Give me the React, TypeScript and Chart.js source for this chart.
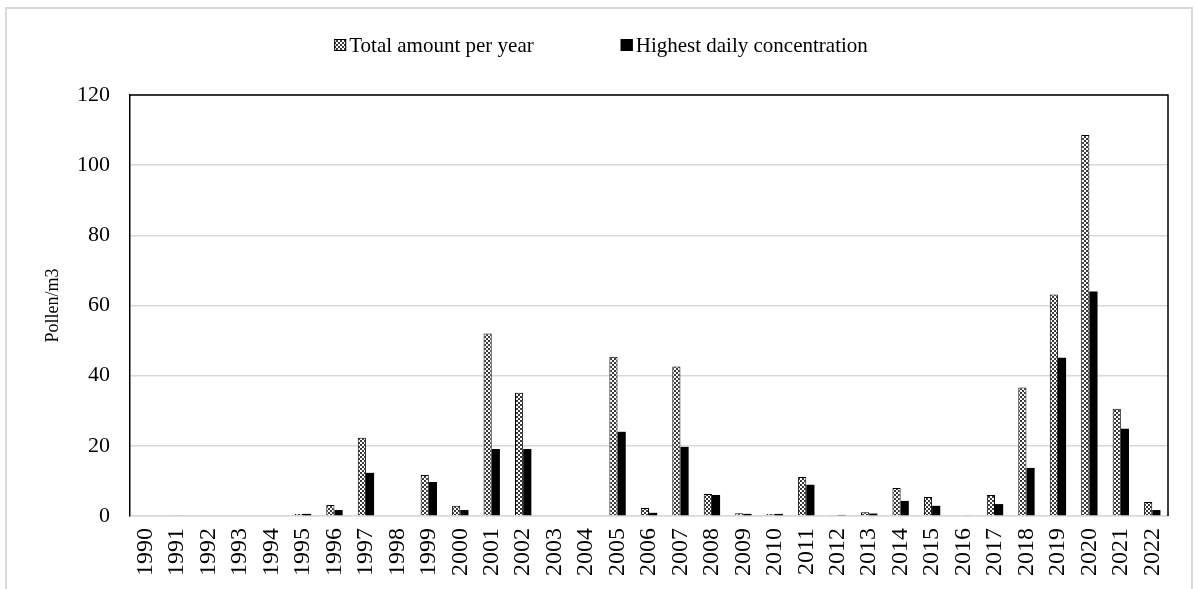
import React, { useEffect, useRef } from "react";
import { Chart, registerables } from "chart.js";

Chart.register(...registerables);

const years = [
  "1990", "1991", "1992", "1993", "1994", "1995", "1996", "1997", "1998", "1999",
  "2000", "2001", "2002", "2003", "2004", "2005", "2006", "2007", "2008", "2009",
  "2010", "2011", "2012", "2013", "2014", "2015", "2016", "2017", "2018", "2019",
  "2020", "2021", "2022",
];

const totalPerYear = [
  0, 0.3, 0, 0, 0, 0.6, 3.1, 22.3, 0, 11.7,
  2.9, 52.0, 35.1, 0, 0, 45.4, 2.3, 42.6, 6.3, 0.8,
  0.6, 11.1, 0.3, 1.1, 8.0, 5.4, 0.2, 6.0, 36.6, 63.1,
  108.6, 30.6, 4.0,
];

const highestDaily = [
  0, 0.2, 0, 0, 0, 0.6, 1.7, 12.3, 0, 9.7,
  1.7, 19.1, 19.1, 0, 0, 24.0, 0.9, 19.7, 6.0, 0.6,
  0.6, 8.9, 0.3, 0.7, 4.3, 2.9, 0.2, 3.4, 13.7, 45.1,
  64.0, 24.9, 1.7,
];

const seriesNames = ["Total amount per year", "Highest daily concentration"];
const yAxisTitle = "Pollen/m3";
const yMin = 0;
const yMax = 120;
const yStep = 20;

const FONT = "'Liberation Serif', 'Times New Roman', serif";

export default function App() {
  const ref = useRef<HTMLCanvasElement>(null);

  useEffect(() => {
    const canvas = ref.current;
    if (!canvas) return;
    const ctx = canvas.getContext("2d")!;

    const pc = document.createElement("canvas");
    pc.width = 4;
    pc.height = 4;
    const g = pc.getContext("2d")!;
    g.fillStyle = "#ffffff";
    g.fillRect(0, 0, 4, 4);
    g.fillStyle = "#3a3a3a";
    g.fillRect(0, 0, 2, 2);
    g.fillRect(2, 2, 2, 2);
    const pattern = ctx.createPattern(pc, "repeat")!;

    const framePlugin = {
      id: "frame",
      beforeDraw(chart: any) {
        const c = chart.ctx;
        c.save();
        c.fillStyle = "#ffffff";
        c.fillRect(0, 0, chart.width, chart.height);
        c.strokeStyle = "#d9d9d9";
        c.lineWidth = 2;
        c.strokeRect(6, 8, chart.width - 12, chart.height + 20);
        c.restore();
      },
      afterDraw(chart: any) {
        const a = chart.chartArea;
        const c = chart.ctx;
        c.save();
        c.strokeStyle = "#000000";
        c.lineWidth = 1.5;
        c.beginPath();
        c.moveTo(a.left, a.top);
        c.lineTo(a.right, a.top);
        c.lineTo(a.right, a.bottom);
        c.stroke();

        // legend
        const fontSize = 21;
        c.font = `${fontSize}px ${FONT}`;
        c.textBaseline = "middle";
        c.fillStyle = "#000000";
        const box = 12;
        const gapText = 3;
        const gapItems = 87;
        const ds = chart.data.datasets;
        const widths = ds.map((d: any) => c.measureText(d.label).width);
        const total =
          widths.reduce((s: number, w: number) => s + box + gapText + w, 0) +
          gapItems * (ds.length - 1);
        let x = chart.width / 2 + 2 - total / 2;
        const yMid = 45;
        ds.forEach((d: any, i: number) => {
          c.fillStyle = d.backgroundColor;
          c.fillRect(x, yMid - box / 2, box, box);
          c.strokeStyle = "#000000";
          c.lineWidth = 1;
          c.strokeRect(x + 0.5, yMid - box / 2 + 0.5, box - 1, box - 1);
          c.fillStyle = "#000000";
          c.textAlign = "left";
          c.fillText(d.label, x + box + gapText, yMid + 1);
          x += box + gapText + widths[i] + gapItems;
        });
        c.restore();
      },
    };

    const chart = new Chart(ctx, {
      type: "bar",
      data: {
        labels: years,
        datasets: [
          {
            label: seriesNames[0],
            data: totalPerYear,
            backgroundColor: pattern,
            borderColor: "#000000",
            borderWidth: 1,
            categoryPercentage: 0.52,
            barPercentage: 1.0,
          },
          {
            label: seriesNames[1],
            data: highestDaily,
            backgroundColor: "#000000",
            borderColor: "#000000",
            borderWidth: 0,
            categoryPercentage: 0.52,
            barPercentage: 1.0,
          },
        ],
      },
      options: {
        animation: false,
        responsive: true,
        maintainAspectRatio: false,
        layout: { padding: { left: 32, right: 30, top: 95, bottom: 1 } },
        plugins: {
          legend: { display: false },
          tooltip: { enabled: false },
        },
        scales: {
          x: {
            grid: { display: false, drawTicks: false },
            border: { display: true, color: "#d9d9d9", width: 1.5 },
            ticks: {
              color: "#000000",
              font: { family: FONT, size: 24 },
              minRotation: 90,
              maxRotation: 90,
              autoSkip: false,
              padding: 12,
            },
          },
          y: {
            min: yMin,
            max: yMax,
            afterFit(scale: any) {
              scale.width = 98;
            },
            ticks: {
              stepSize: yStep,
              color: "#000000",
              font: { family: FONT, size: 22 },
              padding: 20,
            },
            grid: { color: "#d9d9d9", lineWidth: 1.5, drawTicks: false },
            border: { display: true, color: "#000000", width: 1.5 },
            title: {
              display: true,
              text: yAxisTitle,
              color: "#000000",
              font: { family: FONT, size: 18 },
              padding: 10,
            },
          },
        },
      },
      plugins: [framePlugin],
    });

    return () => chart.destroy();
  }, []);

  return (
    <div style={{ position: "absolute", left: 0, top: 0, width: 1198, height: 589 }}>
      <canvas ref={ref} />
    </div>
  );
}
